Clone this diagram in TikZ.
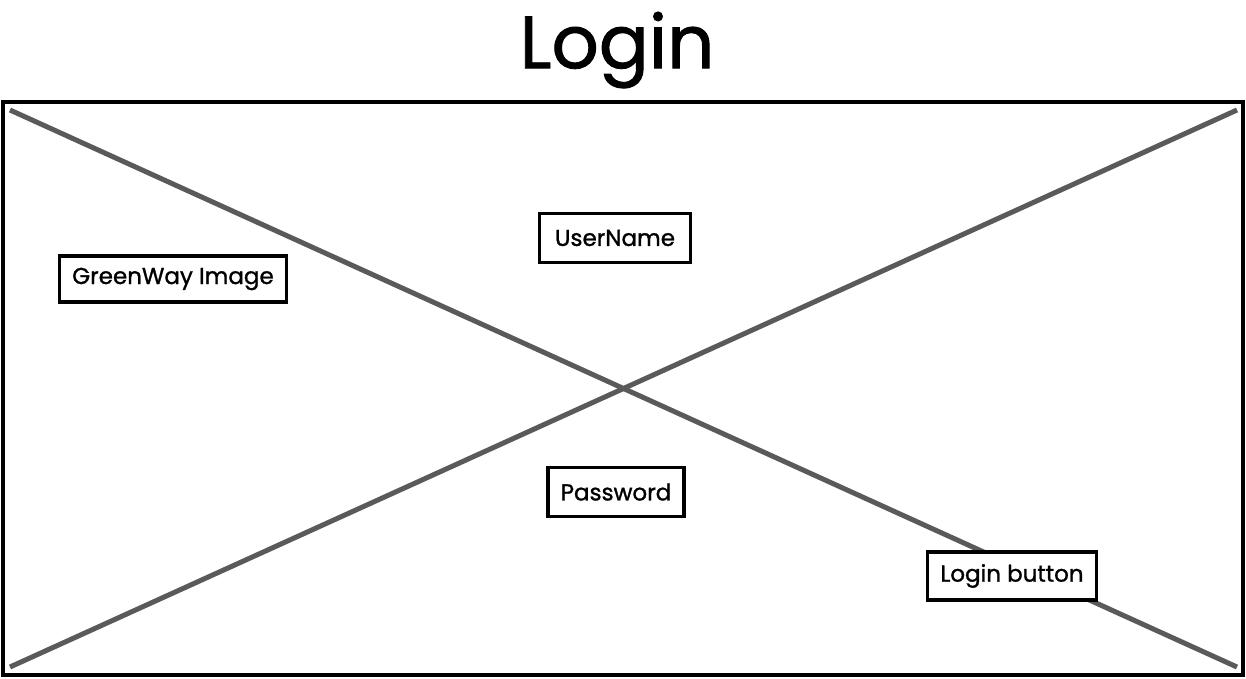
\documentclass[tikz,border=0pt]{standalone}
\usepackage{fontspec}
\setmainfont{Poppins}[AutoFakeBold=1.2]
\definecolor{crossgray}{RGB}{90,90,90}
\tikzset{
  field/.style={draw, line width=3.5pt, fill=white, inner sep=0pt, font=\bfseries\fontsize{23}{26}\selectfont},
}
\begin{document}
\begin{tikzpicture}[x=1pt,y=-1pt]
      \useasboundingbox (0,0) rectangle (1246,678);
      \node[font=\bfseries\fontsize{74}{80}\selectfont] (title) at (617,50) {Login};
      \draw
        (3,102) coordinate (tl)
        (1243,102) coordinate (tr)
        (1243,675) coordinate (br)
        (3,675) coordinate (bl)
        (10,110) coordinate (a)
        (1237,667) coordinate (b)
        (10,667) coordinate (c)
        (1237,110) coordinate (d);
      \draw[line width=4pt] (tl) -- (tr) -- (br) -- (bl) -- cycle;
      \begin{scope}[crossgray, line width=5pt]
        \draw (a) to (b);
        \draw (c) to (d);
      \end{scope}
      \draw
        (615,238) node[field, minimum width=151, minimum height=49] (user){UserName}
        (173,279) node[field, minimum width=227, minimum height=46] (image){GreenWay Image}
        (616,492) node[field, minimum width=136, minimum height=49] (pass){Password}
        (1012,576) node[field, minimum width=169, minimum height=48] (login){Login button};
    \end{tikzpicture}
\end{document}
